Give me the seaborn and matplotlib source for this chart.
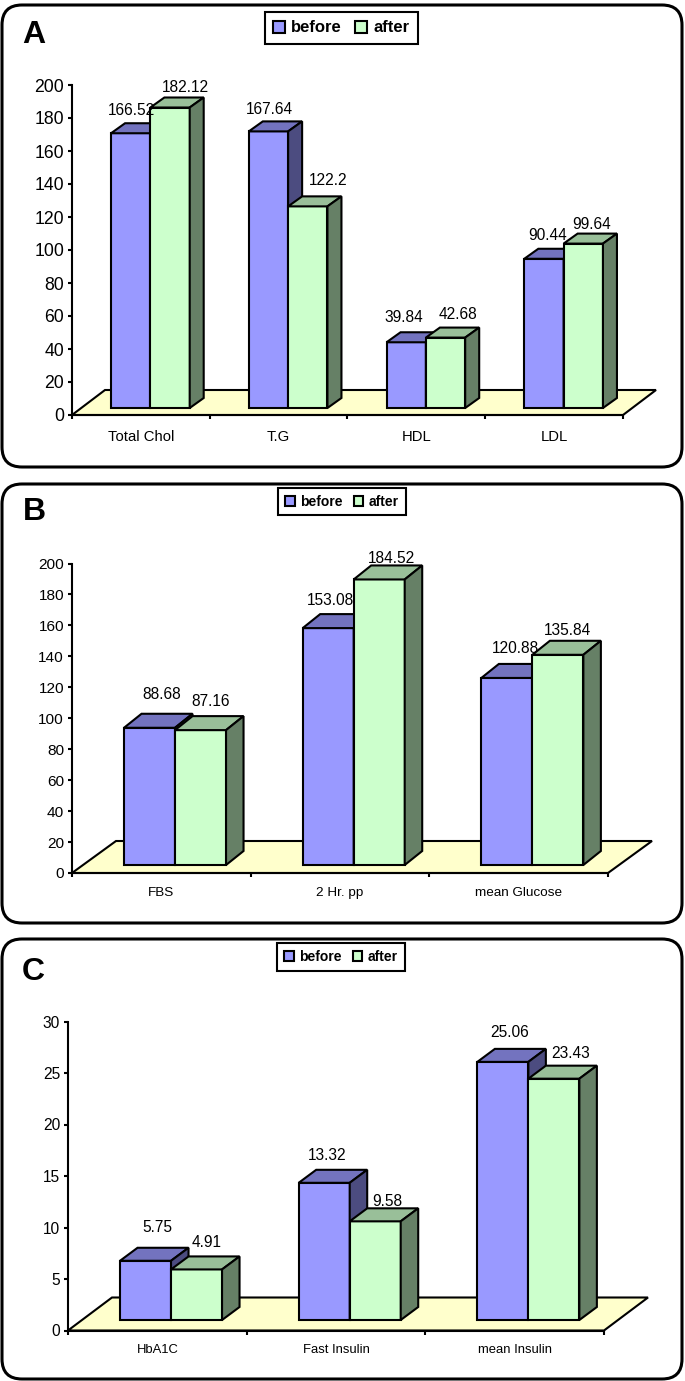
import pandas as pd
import seaborn as sns
import matplotlib.pyplot as plt
from matplotlib.patches import FancyBboxPatch, Polygon
from matplotlib.transforms import Affine2D, IdentityTransform

# --- chart values ---
phases = ['before', 'after']

lipid_names = ['Total Chol', 'T.G', 'HDL', 'LDL']
lipid_before = [166.52, 167.64, 39.84, 90.44]
lipid_after = [182.12, 122.2, 42.68, 99.64]
lipid_text_before = ['166.52', '167.64', '39.84', '90.44']
lipid_text_after = ['182.12', '122.2', '42.68', '99.64']

glucose_names = ['FBS', '2 Hr. pp', 'mean Glucose']
glucose_before = [88.68, 153.08, 120.88]
glucose_after = [87.16, 184.52, 135.84]
glucose_text_before = ['88.68', '153.08', '120.88']
glucose_text_after = ['87.16', '184.52', '135.84']

insulin_names = ['HbA1C', 'Fast Insulin', 'mean Insulin']
insulin_before = [5.75, 13.32, 25.06]
insulin_after = [4.91, 9.58, 23.43]
insulin_text_before = ['5.75', '13.32', '25.06']
insulin_text_after = ['4.91', '9.58', '23.43']

lipid_ticks = [0, 20, 40, 60, 80, 100, 120, 140, 160, 180, 200]
glucose_ticks = [0, 20, 40, 60, 80, 100, 120, 140, 160, 180, 200]
insulin_ticks = [0, 5, 10, 15, 20, 25, 30]

# colours of the fake 3D faces
front = {'before': '#9999FF', 'after': '#CCFFCC'}
top = {'before': '#7373BF', 'after': '#99BF99'}
side = {'before': '#4C4C80', 'after': '#668066'}
floor_color = '#FFFFCC'

W, H = 685, 1381
LW = 1.5

sns.set_style('white')
plt.rcParams['font.family'] = ['Liberation Sans', 'DejaVu Sans']
plt.rcParams['text.color'] = 'black'
plt.rcParams['xtick.color'] = 'black'
plt.rcParams['ytick.color'] = 'black'
plt.rcParams['axes.edgecolor'] = 'black'

fig = plt.figure(figsize=(W / 100, H / 100), dpi=100, facecolor='white')


def draw_panel(letter, letter_xy, frame, axes_box, names, before, after, text_before, text_after,
               ticks, shift, depth, floor_depth, nudge_before, nudge_after, legend_box,
               legend_size, cat_size, cat_pad, tick_size):
    # rounded panel frame, in pixels from the top left of the picture
    x0, y0, x1, y1 = frame
    fig.add_artist(FancyBboxPatch((x0, H - y1), x1 - x0, y1 - y0,
                                  boxstyle='round,pad=0,rounding_size=20',
                                  transform=IdentityTransform(), facecolor='white',
                                  edgecolor='black', linewidth=2.2, zorder=-5))
    fig.text(letter_xy[0] / W, 1 - letter_xy[1] / H, letter, fontsize=23, fontweight='bold',
             ha='left', va='baseline')

    left, bottom, right, upper = axes_box
    ax = fig.add_axes([left / W, 1 - bottom / H, (right - left) / W, (bottom - upper) / H])
    ax.patch.set_alpha(0)

    df = pd.DataFrame({
        'test': names * 2,
        'value': before + after,
        'phase': ['before'] * len(names) + ['after'] * len(names),
    })
    sns.barplot(data=df, x='test', y='value', hue='phase', hue_order=phases, palette=front,
                width=0.571, gap=0, saturation=1, edgecolor='black', linewidth=LW,
                errorbar=None, ax=ax)
    bars = [b for b in ax.patches if b.get_height() > 0]

    n = len(names)
    ymax = ticks[-1]
    ax.set_xlim(-0.5, n - 0.5)
    ax.set_ylim(0, ymax)
    unit_x = (right - left) / n
    unit_y = (bottom - upper) / ymax

    # the bars stand a little inside the floor, so they are moved by a few pixels
    moved = ax.transData + Affine2D().translate(shift[0], shift[1])
    ddx, ddy = depth[0] / unit_x, depth[1] / unit_y

    fdx, fdy = floor_depth[0] / unit_x, floor_depth[1] / unit_y
    ax.add_patch(Polygon([(-0.5, 0), (n - 0.5, 0), (n - 0.5 + fdx, fdy), (-0.5 + fdx, fdy)],
                         closed=True, facecolor=floor_color, edgecolor='black', linewidth=LW,
                         zorder=1, clip_on=False))

    for i, bar in enumerate(bars):
        phase = 'before' if i < n else 'after'
        z = 3 if phase == 'before' else 4
        xa, xb = bar.get_x(), bar.get_x() + bar.get_width()
        h = bar.get_height()
        bar.set_transform(moved)
        bar.set_clip_on(False)
        bar.set_zorder(z)
        ax.add_patch(Polygon([(xa, h), (xb, h), (xb + ddx, h + ddy), (xa + ddx, h + ddy)], closed=True,
                             facecolor=top[phase], edgecolor='black', linewidth=LW,
                             transform=moved, zorder=z, clip_on=False))
        ax.add_patch(Polygon([(xb, 0), (xb + ddx, ddy), (xb + ddx, h + ddy), (xb, h)], closed=True,
                             facecolor=side[phase], edgecolor='black', linewidth=LW,
                             transform=moved, zorder=z, clip_on=False))
        label = (text_before + text_after)[i]
        nudge = (nudge_before + nudge_after)[i]
        ax.annotate(label, xy=((xa + xb) / 2, h), xycoords=moved, xytext=nudge,
                    textcoords='offset pixels', ha='center', va='center', fontsize=11.2,
                    zorder=6, annotation_clip=False)

    # axes
    sns.despine(ax=ax)
    ax.spines['left'].set_linewidth(LW)
    ax.spines['bottom'].set_linewidth(LW)
    ax.set_xlabel('')
    ax.set_ylabel('')
    ax.set_yticks(ticks)
    ax.set_yticklabels([str(t) for t in ticks], fontsize=tick_size)
    ax.tick_params(axis='y', left=True, length=3.2, width=LW, pad=2.5)
    ax.set_xticks([i - 0.5 for i in range(n + 1)])
    ax.set_xticklabels([])
    ax.set_xticks(list(range(n)), minor=True)
    ax.set_xticklabels(names, minor=True, fontsize=cat_size)
    ax.tick_params(axis='x', which='major', bottom=True, length=3.2, width=LW)
    ax.tick_params(axis='x', which='minor', bottom=False, length=0, pad=cat_pad)

    # legend box centred on the given pixel box
    lx0, ly0, lx1, ly1 = legend_box
    sns.move_legend(ax, 'center', bbox_to_anchor=((lx0 + lx1) / 2 / W, 1 - (ly0 + ly1) / 2 / H),
                    bbox_transform=fig.transFigure, ncol=2, title=None, frameon=True,
                    fancybox=False, framealpha=1, edgecolor='black', fontsize=legend_size,
                    handlelength=0.7, handleheight=0.7, handletextpad=0.4, columnspacing=0.8,
                    borderpad=0.5, borderaxespad=0)
    legend = ax.get_legend()
    legend.get_frame().set_linewidth(LW)
    legend.set_zorder(7)
    for t in legend.get_texts():
        t.set_fontweight('bold')
    for handle in legend.legend_handles:
        handle.set_edgecolor('black')
        handle.set_linewidth(LW)
    return ax


# --- Panel A: lipids ---
draw_panel('A', (22, 43), (2, 5, 682, 467), (72, 415, 623, 85),
           lipid_names, lipid_before, lipid_after, lipid_text_before, lipid_text_after,
           lipid_ticks, (9.5, 7), (14, 10), (33, 25),
           [(1, 23), (1, 21.5), (-2.7, 24.3), (3.5, 22.8)],
           [(15.7, 20.5), (20, 26), (12, 22.6), (8, 18.6)],
           (267, 14, 416, 42), 12, 10.7, 10.5, 12.7)

# --- Panel B: glucose ---
draw_panel('B', (23, 520), (2, 484, 682, 923), (72, 873, 608, 563.5),
           glucose_names, glucose_before, glucose_after, glucose_text_before, glucose_text_after,
           glucose_ticks, (13.7, 8), (17.5, 14), (44, 32),
           [(12, 33.5), (2, 27.7), (8.5, 29.6)],
           [(10, 29), (12.7, 21), (9.5, 24.4)],
           (280, 490, 404, 513), 10, 9.7, 10, 11.1)

# --- Panel C: insulin ---
draw_panel('C', (22, 980), (2, 939, 682, 1379), (68, 1330.5, 604, 1021.5),
           insulin_names, insulin_before, insulin_after, insulin_text_before, insulin_text_after,
           insulin_ticks, (13.7, 10.5), (17.5, 13), (44, 33),
           [(12.2, 33.3), (3, 27.7), (7.2, 29.6)],
           [(10, 27), (12.3, 20), (16.3, 25)],
           (279, 946, 403, 968), 10, 9.4, 10, 11.2)

plt.savefig('out.png', dpi=100)
plt.close()
